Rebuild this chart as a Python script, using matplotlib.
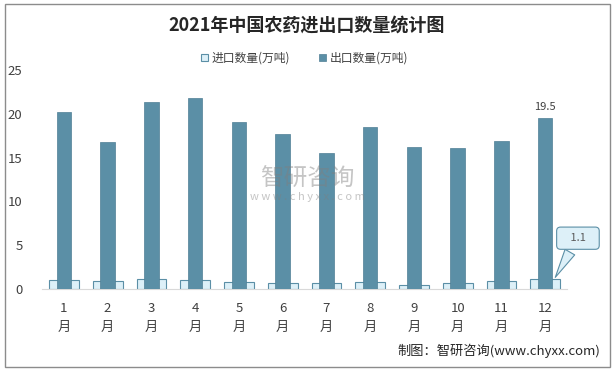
import matplotlib.pyplot as plt
from matplotlib.patches import Rectangle

plt.rcParams['font.family'] = ['Noto Sans CJK SC', 'DejaVu Sans']

months = ['1\n月', '2\n月', '3\n月', '4\n月', '5\n月', '6\n月',
          '7\n月', '8\n月', '9\n月', '10\n月', '11\n月', '12\n月']
imports = [1.0, 0.9, 1.1, 1.0, 0.8, 0.7, 0.7, 0.8, 0.5, 0.7, 0.9, 1.1]
exports = [20.2, 16.8, 21.3, 21.8, 19.1, 17.7, 15.5, 18.5, 16.2, 16.1, 16.9, 19.5]

dark = '#5B8FA6'
light = '#DDF0F8'
text_c = '#404040'

fig = plt.figure(figsize=(6.14, 3.71), dpi=100)
fig.add_artist(Rectangle((5 / 614, 4 / 371), 605 / 614, 363 / 371,
                         transform=fig.transFigure, fill=False,
                         ec='#8C8C8C', lw=1))
ax = fig.add_axes([42 / 614, 1 - 289 / 371, 525 / 614, 219 / 371])

x = range(len(months))
ax.bar(x, imports, width=0.68, color=light, edgecolor=dark, lw=0.8,
       label='进口数量(万吨)', zorder=2)
ax.bar(x, exports, width=0.33, color=dark, edgecolor='#4F7F95', lw=0.5,
       label='出口数量(万吨)', zorder=3)

ax.set_xlim(-0.5, len(months) - 0.5)
ax.set_ylim(0, 25)
ax.set_yticks([0, 5, 10, 15, 20, 25])
ax.set_xticks(list(x))
ax.set_xticklabels(months, fontsize=9, color=text_c, linespacing=1.6)
ax.tick_params(axis='both', length=0, colors=text_c, labelsize=9.5)
ax.tick_params(axis='x', pad=9)
ax.tick_params(axis='y', pad=14)
for s in ['top', 'right', 'left']:
    ax.spines[s].set_visible(False)
ax.spines['bottom'].set_color('#D9D9D9')

ax.text(11, exports[11] + 0.7, '19.5', ha='center', va='bottom',
        fontsize=8, color=text_c)
ax.annotate('   1.1   ', xy=(11.2, imports[11] - 0.05), xytext=(11.75, 5.8),
            ha='center', va='center', fontsize=8, color='#595959',
            annotation_clip=False, zorder=5,
            bbox=dict(boxstyle='round,pad=0.55,rounding_size=0.35',
                      fc=light, ec=dark, lw=0.8),
            arrowprops=dict(arrowstyle='wedge,tail_width=1.0,shrink_factor=0.5',
                            fc=light, ec=dark, lw=0.8))

fig.text(0.5, 1 - 25 / 371, '2021年中国农药进出口数量统计图', ha='center',
         va='center', fontsize=13, fontweight='bold', color='#262626')
ax.legend(loc='center', bbox_to_anchor=(0.5, 1 + 12 / 219), ncol=2,
          frameon=False, fontsize=8.5, handlelength=0.6, handleheight=0.6,
          columnspacing=2.5, handletextpad=0.3, labelcolor=text_c)

fig.text(0.5, 1 - 179 / 371, '智研咨询', ha='center', va='center',
         fontsize=17, color='#7F7F7F', alpha=0.45, zorder=10)
fig.text(0.5, 1 - 197 / 371, 'w w w . c h y x x . c o m', ha='center',
         va='center', fontsize=8, color='#7F7F7F', alpha=0.45, zorder=10)

fig.text(600 / 614, 1 - 351 / 371, '制图：智研咨询(www.chyxx.com)', ha='right',
         va='center', fontsize=9.5, color='#262626')

fig.savefig('out.png', dpi=100)
